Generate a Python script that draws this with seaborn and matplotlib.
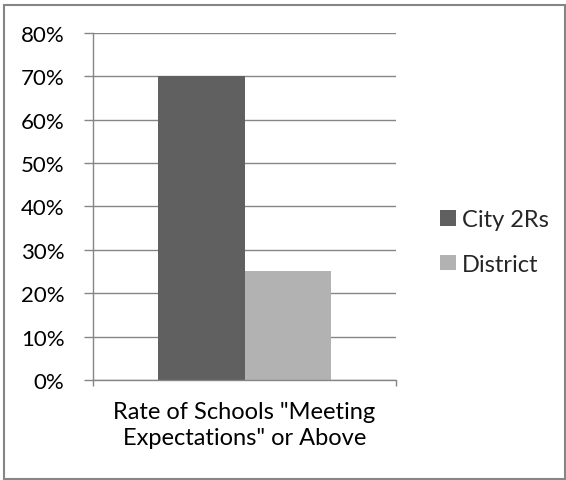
import pandas as pd
import numpy as np
import matplotlib
matplotlib.use('Agg')
import matplotlib.pyplot as plt
import seaborn as sns
from matplotlib.patches import Rectangle
from matplotlib.ticker import PercentFormatter

# chart data
categories = ['Rate of Schools "Meeting\nExpectations" or Above']
series = ['City 2Rs', 'District']
values = [0.70, 0.25]
bar_colors = ['#606060', '#b2b2b2']

df = pd.DataFrame({'category': categories * len(series),
                   'series': series,
                   'value': values})

sns.set_theme(style='white')
plt.rcParams['font.family'] = ['Lato', 'DejaVu Sans']

fig = plt.figure(figsize=(5.66, 4.81), dpi=100)
ax = fig.add_axes([93 / 566, 1 - 381 / 481, 303 / 566, 347.3 / 481])

sns.barplot(data=df, x='category', y='value', hue='series', palette=bar_colors,
            width=0.574, saturation=1, ax=ax, linewidth=0, legend=True)

grid_col = '#868686'
ax.set_ylim(0, 0.8)
ax.set_xlim(-0.5, 0.5)
ax.set_yticks(np.arange(0, 0.81, 0.1))
ax.yaxis.set_major_formatter(PercentFormatter(1.0, decimals=0))
ax.yaxis.grid(True, color=grid_col, linewidth=1)
ax.set_axisbelow(True)
for s in ['top', 'right']:
    ax.spines[s].set_visible(False)
for s in ['left', 'bottom']:
    ax.spines[s].set_color(grid_col)
    ax.spines[s].set_linewidth(1)
ax.tick_params(axis='y', direction='out', length=6.5, color=grid_col, width=1,
               labelsize=16, pad=14, left=True)
ax.tick_params(axis='x', which='major', length=0, labelsize=17, pad=15)
ax.set_xticks([-0.5, 0.5], minor=True)
ax.tick_params(axis='x', which='minor', direction='out', length=4.5, color=grid_col,
               width=1, bottom=True)
for lbl in ax.get_yticklabels():
    lbl.set_color('#000000')
for lbl in ax.get_xticklabels():
    lbl.set_color('#000000')
    lbl.set_linespacing(1.3)
ax.set_xlabel('')
ax.set_ylabel('')

handles, labels = ax.get_legend_handles_labels()
ax.legend(handles, labels, loc='center left', bbox_to_anchor=(419 / 566, 1 - 243 / 481),
          bbox_transform=fig.transFigure, frameon=False, fontsize=17,
          handlelength=0.65, handleheight=0.65, handletextpad=0.25, labelspacing=1.0)

fig.patches.append(Rectangle((3.5 / 566, 1.5 / 481), 561 / 566, 474 / 481,
                             transform=fig.transFigure, fill=False,
                             edgecolor=grid_col, linewidth=1.5))

fig.savefig('out.png', dpi=100)
